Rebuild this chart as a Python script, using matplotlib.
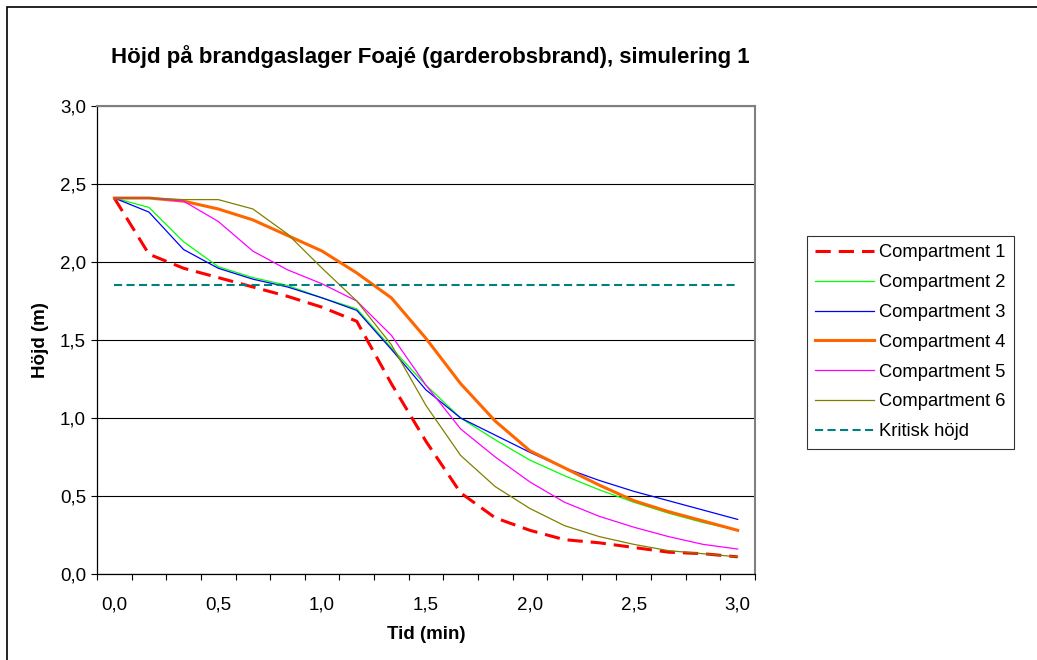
import numpy as np
import matplotlib
matplotlib.use('Agg')
import matplotlib.pyplot as plt
from matplotlib.patches import Rectangle
from matplotlib.ticker import FixedLocator, FuncFormatter

plt.rcParams['font.family'] = ['Liberation Sans', 'DejaVu Sans']

# time in minutes, one value every 10 s
tid = [i / 6 for i in range(19)]

comp1 = [2.41, 2.05, 1.96, 1.90, 1.84, 1.78, 1.71, 1.62, 1.22, 0.85,
         0.52, 0.36, 0.28, 0.22, 0.20, 0.17, 0.14, 0.13, 0.11]
comp2 = [2.41, 2.35, 2.13, 1.97, 1.90, 1.85, 1.77, 1.70, 1.45, 1.21,
         1.00, 0.86, 0.73, 0.63, 0.54, 0.46, 0.39, 0.33, 0.28]
comp3 = [2.41, 2.32, 2.08, 1.96, 1.89, 1.84, 1.77, 1.69, 1.44, 1.18,
         1.00, 0.89, 0.78, 0.68, 0.60, 0.53, 0.47, 0.41, 0.35]
comp4 = [2.41, 2.41, 2.39, 2.34, 2.27, 2.17, 2.07, 1.93, 1.77, 1.51,
         1.22, 0.98, 0.79, 0.68, 0.57, 0.47, 0.40, 0.34, 0.28]
comp5 = [2.41, 2.41, 2.39, 2.26, 2.07, 1.95, 1.86, 1.75, 1.53, 1.21,
         0.93, 0.75, 0.59, 0.46, 0.37, 0.30, 0.24, 0.19, 0.16]
comp6 = [2.41, 2.41, 2.40, 2.40, 2.34, 2.18, 1.96, 1.75, 1.47, 1.08,
         0.76, 0.56, 0.42, 0.31, 0.24, 0.19, 0.15, 0.13, 0.11]
kritisk = [1.85] * 19

fig = plt.figure(figsize=(10.37, 6.60), dpi=100)
ax = fig.add_axes([97 / 1037, 86 / 660, 658 / 1037, 468 / 660])

ax.plot(tid, comp1, color='#FF0000', lw=2.2, dashes=(5, 2.6), label='Compartment 1')
ax.plot(tid, comp2, color='#00FF00', lw=0.9, label='Compartment 2')
ax.plot(tid, comp3, color='#0000FF', lw=0.9, label='Compartment 3')
ax.plot(tid, comp4, color='#FF6600', lw=2.2, label='Compartment 4')
ax.plot(tid, comp5, color='#FF00FF', lw=0.9, label='Compartment 5')
ax.plot(tid, comp6, color='#808000', lw=0.9, label='Compartment 6')
ax.plot(tid, kritisk, color='#008080', lw=1.5, dashes=(3.9, 2.1), label='Kritisk höjd')

ax.set_xlim(-1 / 12, 3 + 1 / 12)
ax.set_ylim(0, 3)

komma = FuncFormatter(lambda v, p: f'{v:.1f}'.replace('.', ','))
ax.xaxis.set_major_locator(FixedLocator(np.arange(0, 3.01, 0.5)))
ax.xaxis.set_minor_locator(FixedLocator(np.arange(19 + 1) / 6 - 1 / 12))
ax.xaxis.set_major_formatter(komma)
ax.yaxis.set_major_locator(FixedLocator(np.arange(0, 3.01, 0.5)))
ax.yaxis.set_major_formatter(komma)
ax.tick_params(axis='x', which='major', length=0, pad=16, labelsize=13.5)
ax.tick_params(axis='x', which='minor', length=4, width=0.8, direction='out')
ax.tick_params(axis='y', length=4, width=0.8, direction='out', pad=4, labelsize=13.5)

ax.grid(axis='y', color='black', lw=0.8)
ax.set_axisbelow(True)
for s in ['top', 'right']:
    ax.spines[s].set_color('#808080')
    ax.spines[s].set_linewidth(1.5)
for s in ['left', 'bottom']:
    ax.spines[s].set_color('black')
    ax.spines[s].set_linewidth(0.9)

ax.set_xlabel('Tid (min)', fontsize=13.5, fontweight='bold', labelpad=9)
ax.set_ylabel('Höjd (m)', fontsize=13.5, fontweight='bold', labelpad=8)
fig.text(430 / 1037, 1 - 57 / 660, 'Höjd på brandgaslager Foajé (garderobsbrand), simulering 1',
         fontsize=16, fontweight='bold', ha='center', va='center')

leg = ax.legend(loc='upper left', bbox_to_anchor=(807 / 1037, 1 - 236 / 660),
                bbox_transform=fig.transFigure, fontsize=13.2, frameon=True,
                fancybox=False, edgecolor='black', handlelength=3.2,
                labelspacing=0.7, borderpad=0.45, handletextpad=0.3,
                borderaxespad=0)
leg.get_frame().set_linewidth(0.8)

# outer chart border, cut off at right and bottom
fig.patches.append(Rectangle((7 / 1037, -0.1), 1.2, 1 - 7 / 660 + 0.1,
                             transform=fig.transFigure, fill=False,
                             edgecolor='black', lw=1.2))

fig.savefig('out.png', dpi=100)
